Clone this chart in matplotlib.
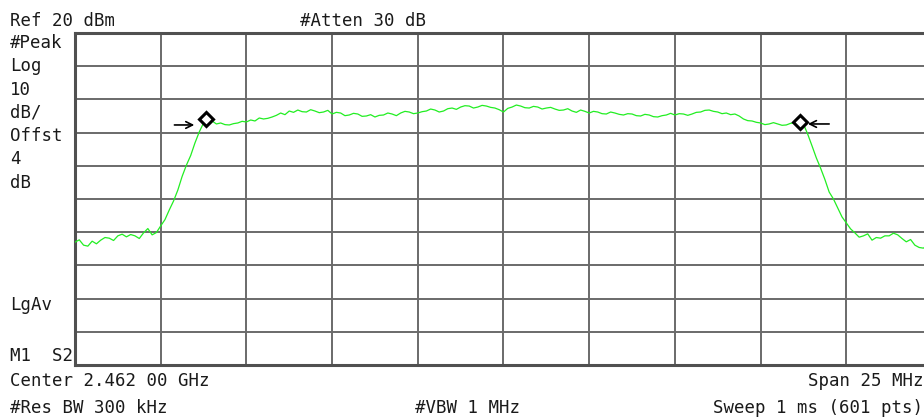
import matplotlib.pyplot as plt
import matplotlib
import numpy as np

matplotlib.rcParams['font.family'] = 'DejaVu Sans Mono'

# sweep: 25 MHz span around 2.462 GHz, offsets in MHz
span = 25.0
freq = np.linspace(-span / 2, span / 2, 201)
level = [-43.0, -42.3, -43.9, -44.2, -42.7, -43.5, -42.4, -41.6, -41.8, -42.5,
         -41.1, -40.6, -41.4, -40.7, -41.1, -41.9, -40.2, -38.9, -40.8, -40.1,
         -38.1, -36.2, -33.3, -30.6, -27.3, -23.2, -19.8, -16.9, -13.1, -9.8,
         -7.1, -6.2, -6.5, -7.4, -7.1, -7.6, -7.7, -7.3, -7.1, -6.6,
         -6.8, -6.2, -6.5, -5.6, -5.9, -5.7, -5.3, -4.8, -4.1, -4.6,
         -3.5, -3.9, -3.2, -3.7, -3.8, -3.1, -3.5, -4.0, -3.8, -3.3,
         -4.4, -3.9, -4.1, -4.9, -4.7, -4.2, -4.4, -5.1, -5.0, -4.6,
         -5.3, -4.8, -4.7, -4.1, -4.4, -4.9, -4.1, -3.6, -3.8, -4.3,
         -4.1, -3.7, -3.5, -2.9, -3.2, -3.8, -3.5, -2.8, -2.6, -3.0,
         -2.3, -1.9, -2.0, -2.6, -2.3, -1.8, -2.0, -2.4, -2.6, -3.1,
         -3.8, -2.7, -2.3, -1.7, -2.0, -2.5, -2.6, -2.1, -2.3, -2.9,
         -2.6, -2.4, -2.9, -3.3, -3.2, -2.8, -3.5, -3.9, -3.2, -3.6,
         -4.1, -3.6, -3.8, -4.3, -4.4, -3.8, -4.1, -4.5, -4.7, -4.3,
         -4.4, -4.9, -5.0, -4.5, -4.7, -5.2, -5.3, -4.9, -4.7, -4.2,
         -4.7, -4.3, -4.4, -4.8, -4.4, -3.9, -3.8, -3.3, -3.2, -3.6,
         -3.8, -4.3, -4.1, -4.6, -4.4, -5.0, -5.9, -6.4, -6.5, -6.9,
         -7.1, -7.6, -7.4, -7.0, -7.4, -7.8, -7.7, -7.2, -7.1, -7.5,
         -7.4, -10.5, -14.0, -17.6, -20.7, -24.1, -27.9, -30.0, -32.7, -35.4,
         -37.2, -39.0, -40.2, -41.5, -41.1, -40.5, -42.4, -41.6, -41.8, -41.1,
         -41.1, -40.3, -40.8, -41.9, -42.9, -42.2, -43.9, -44.6, -44.8, -43.9,
         -44.2]

# markers (freq offset MHz, dBm)
mk_freq = [-8.69, 8.66]
mk_level = [-5.9, -6.8]

ref_level = 20
db_div = 10

W, H = 924, 420
fig = plt.figure(figsize=(W / 100, H / 100), dpi=100)
ax = fig.add_axes([75 / W, 55 / H, 857 / W, 332 / H])

ax.plot(freq, level, color='#22ee22', linewidth=0.9, zorder=3)
ax.plot(mk_freq, mk_level, linestyle='none', marker='D', markersize=7,
        markerfacecolor='white', markeredgecolor='black', markeredgewidth=2.2, zorder=4)
arrow = dict(arrowstyle='->', color='black', lw=1.2, shrinkA=0, shrinkB=0, mutation_scale=12)
ax.annotate('', xy=(-9.02, -7.7), xytext=(-9.6, -7.7), arrowprops=arrow)
ax.annotate('', xy=(8.88, -7.4), xytext=(9.5, -7.4), arrowprops=arrow)

ax.set_xlim(-span / 2, span / 2)
ax.set_ylim(ref_level - 10 * db_div, ref_level)
ax.set_xticks(np.arange(-12.5, 12.6, 2.5))
ax.set_yticks(np.arange(-80, 21, 10))
ax.tick_params(length=0, labelbottom=False, labelleft=False)
ax.grid(True, color='#6a6a6a', linewidth=1.4)
for s in ax.spines.values():
    s.set_color('#505050')
    s.set_linewidth(2.2)

def label(x, y, s):
    fig.text(x / W, 1 - y / H, s, fontsize=12.5, color='#1a1a1a', va='baseline', ha='left')

label(10, 26, 'Ref 20 dBm')
label(300, 26, '#Atten 30 dB')
side = ['#Peak', 'Log', '10', 'dB/', 'Offst', '4', 'dB']
for i, s in enumerate(side):
    label(10, 48 + 23.3 * i, s)
label(10, 310, 'LgAv')
label(10, 361, 'M1  S2')
label(10, 386, 'Center 2.462 00 GHz')
label(808, 386, 'Span 25 MHz')
label(10, 413, '#Res BW 300 kHz')
label(415, 413, '#VBW 1 MHz')
label(713, 413, 'Sweep 1 ms (601 pts)')

fig.savefig('out.png', dpi=100)
